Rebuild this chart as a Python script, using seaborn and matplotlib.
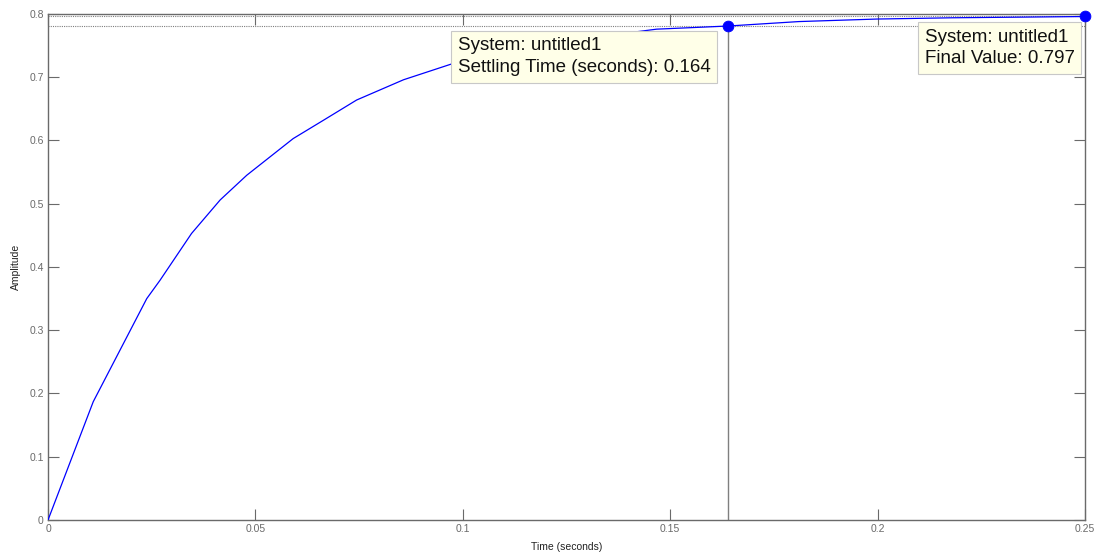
import matplotlib
matplotlib.use("Agg")
import matplotlib.pyplot as plt
import pandas as pd
import seaborn as sns

# step response (seconds, amplitude)
time_s = [0.0, 0.0109, 0.0238, 0.027, 0.0346, 0.0415, 0.0479, 0.0591, 0.0664,
          0.0744, 0.0857, 0.0973, 0.110, 0.122, 0.135, 0.1467, 0.164, 0.181,
          0.1998, 0.218, 0.234, 0.25]
amplitude = [0.0, 0.187, 0.350, 0.379, 0.453, 0.506, 0.545, 0.603, 0.632,
             0.664, 0.696, 0.721, 0.740, 0.755, 0.766, 0.776, 0.781, 0.788,
             0.792, 0.794, 0.795, 0.796]

settling_time = 0.164
settling_value = 0.781
final_time = 0.25
final_value = 0.797

x_ticks = [0, 0.05, 0.1, 0.15, 0.2, 0.25]
x_tick_labels = ["0", "0.05", "0.1", "0.15", "0.2", "0.25"]
y_ticks = [0, 0.1, 0.2, 0.3, 0.4, 0.5, 0.6, 0.7, 0.8]
y_tick_labels = ["0", "0.1", "0.2", "0.3", "0.4", "0.5", "0.6", "0.7", "0.8"]

settling_text = "System: untitled1\nSettling Time (seconds): 0.164"
final_text = "System: untitled1\nFinal Value: 0.797"

sns.set_theme(style="white")
plt.rcParams["font.family"] = ["Liberation Sans", "DejaVu Sans"]

fig = plt.figure(figsize=(10.99, 5.55), dpi=100)
ax = fig.add_axes([0.0437, 0.0631, 0.9436, 0.9117])

curve = pd.DataFrame({"t": time_s, "y": amplitude})
sns.lineplot(data=curve, x="t", y="y", color="#0000ff", linewidth=0.9,
             ax=ax, zorder=3)

# settling / final value guide lines
guide = "#7f7f7f"
ax.axhline(final_value, color=guide, linewidth=0.8, linestyle=(0, (1, 1)), zorder=2)
ax.axhline(settling_value, color=guide, linewidth=0.8, linestyle=(0, (1, 1)), zorder=2)
ax.plot([settling_time, settling_time], [0, settling_value], color=guide,
        linewidth=1.0, zorder=2)

points = pd.DataFrame({"t": [settling_time, final_time],
                       "y": [settling_value, final_value]})
sns.scatterplot(data=points, x="t", y="y", color="#0000ff", s=60,
                edgecolor="#0000ff", ax=ax, zorder=5, clip_on=False)

box = dict(boxstyle="square,pad=0.35", facecolor="#ffffe8", edgecolor="#c8c8c8",
           linewidth=0.8)
ax.text(0.0988, 0.763, settling_text, fontsize=13.5, color="#111111",
        linespacing=1.35, ha="left", va="top", bbox=box, zorder=6)
ax.text(0.2113, 0.777, final_text, fontsize=13.5, color="#111111",
        linespacing=1.35, ha="left", va="top", bbox=box, zorder=6)

ax.set_xlim(0, 0.25)
ax.set_ylim(0, 0.8)
ax.set_xticks(x_ticks, x_tick_labels)
ax.set_yticks(y_ticks, y_tick_labels)
ax.tick_params(direction="in", length=8, width=0.8, color="#6a6a6a",
               labelcolor="#6a6a6a", labelsize=7.5, top=True, right=True,
               bottom=True, left=True, pad=3)
for spine in ax.spines.values():
    spine.set_color("#6a6a6a")
    spine.set_linewidth(1.0)

ax.set_xlabel("Time (seconds)", fontsize=7.5, color="#222222", labelpad=6)
ax.set_ylabel("Amplitude", fontsize=7.5, color="#222222", labelpad=6)

fig.savefig("out.png", dpi=100)
